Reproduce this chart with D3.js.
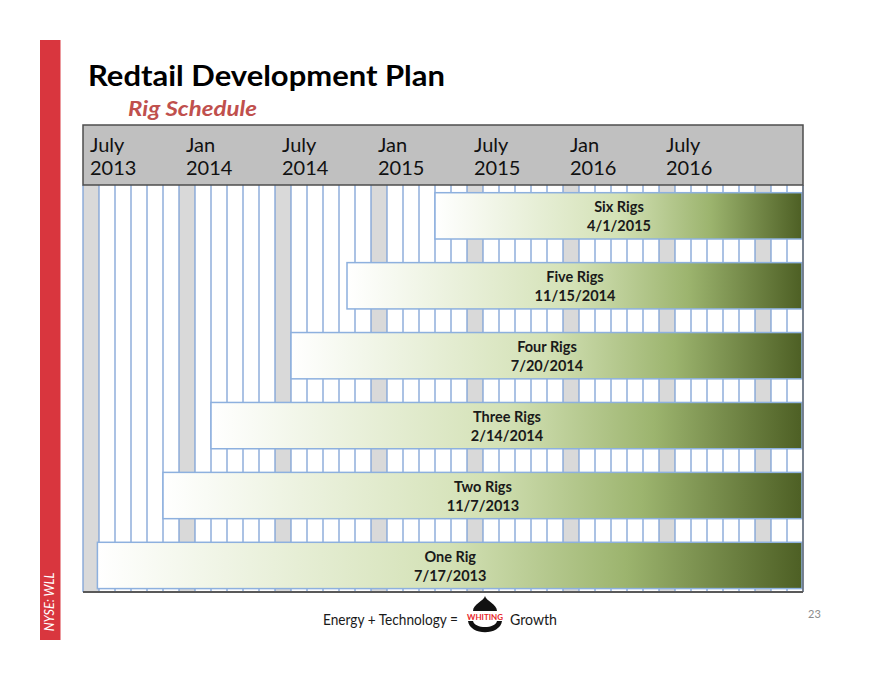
<!DOCTYPE html>
<html>
<head>
<meta charset="utf-8">
<script src="https://cdn.jsdelivr.net/npm/d3@7/dist/d3.min.js"></script>
<style>
  html, body { margin: 0; padding: 0; background: #ffffff; }
  svg { display: block; }
</style>
</head>
<body>
<svg id="chart" width="880" height="680"></svg>
<script>
// ---- data ----
const titleText = "Redtail Development Plan";
const subtitleText = "Rig Schedule";
const monthStart = new Date(2013, 6, 1);   // July 2013
const monthEnd = new Date(2017, 3, 1);     // exclusive: through March 2017
const headerMonths = [0, 6, 12, 18, 24, 30, 36];
const headerLine1 = ["July", "Jan", "July", "Jan", "July", "Jan", "July"];
const headerLine2 = ["2013", "2014", "2014", "2015", "2015", "2016", "2016"];
const rigLabels = ["Six Rigs", "Five Rigs", "Four Rigs", "Three Rigs", "Two Rigs", "One Rig"];
const rigDates = ["4/1/2015", "11/15/2014", "7/20/2014", "2/14/2014", "11/7/2013", "7/17/2013"];
// bar start, in months after July 2013, as drawn in the picture
const rigStart = [22, 16.5, 13, 8, 5, 0.9];
const footerLeft = "Energy + Technology =";
const footerRight = "Growth";
const logoText = "WHITING";
const pageNumber = "23";
const tickerText = "NYSE: WLL";

// ---- layout ----
const svg = d3.select("#chart");
const months = d3.timeMonth.range(monthStart, monthEnd);
const nMonths = months.length;
const frame = { left: 83, right: 803, top: 125, headerBottom: 185, bottom: 592 };

const x = d3.scaleLinear().domain([0, nMonths]).range([frame.left, frame.right]);
const y = d3.scaleLinear().domain([0, rigLabels.length - 1]).range([192.7, 542.3]);
const barH = 46.3;

// left red strip
svg.append("rect").attr("x", 40).attr("y", 40).attr("width", 20.5).attr("height", 600)
  .attr("fill", "#d9363e");
svg.append("text")
  .attr("transform", "translate(54,602) rotate(-90)")
  .attr("text-anchor", "middle")
  .attr("font-family", "Lato, 'Open Sans', sans-serif")
  .attr("font-style", "italic")
  .attr("font-size", 12.5)
  .attr("fill", "#ffffff")
  .text(tickerText);

// title
svg.append("text").attr("x", 88).attr("y", 86)
  .attr("font-family", "Lato, 'Open Sans', sans-serif")
  .attr("font-weight", "bold").attr("font-size", 29)
  .attr("fill", "#000000")
  .attr("textLength", 357).attr("lengthAdjust", "spacingAndGlyphs")
  .text(titleText);
svg.append("text").attr("x", 128).attr("y", 116)
  .attr("font-family", "Lato, 'Open Sans', sans-serif")
  .attr("font-weight", "bold").attr("font-style", "italic").attr("font-size", 21)
  .attr("fill", "#c0504d")
  .attr("textLength", 129).attr("lengthAdjust", "spacingAndGlyphs")
  .text(subtitleText);

// grid columns
const grid = svg.append("g");
grid.selectAll("rect.col").data(months).join("rect")
  .attr("class", "col")
  .attr("x", (d, i) => x(i))
  .attr("y", frame.headerBottom)
  .attr("width", x(1) - x(0))
  .attr("height", frame.bottom - frame.headerBottom)
  .attr("fill", (d, i) => (i % 6 === 0 ? "#d9d9d9" : "#ffffff"));
grid.selectAll("line.col").data(d3.range(0, nMonths + 1)).join("line")
  .attr("x1", d => x(d)).attr("x2", d => x(d))
  .attr("y1", frame.headerBottom).attr("y2", frame.bottom)
  .attr("stroke", "#7ea1d6").attr("stroke-width", 1.3);

// header
svg.append("rect")
  .attr("x", frame.left).attr("y", frame.top)
  .attr("width", frame.right - frame.left).attr("height", frame.headerBottom - frame.top)
  .attr("fill", "#c0c0c0").attr("stroke", "#4d4d4d").attr("stroke-width", 1.5);
const hdr = svg.append("g")
  .attr("font-family", "Lato, 'Open Sans', sans-serif")
  .attr("font-size", 20).attr("fill", "#111111");
hdr.selectAll("text.l1").data(headerMonths).join("text")
  .attr("class", "l1")
  .attr("x", d => x(d) + 7).attr("y", 152)
  .text((d, i) => headerLine1[i]);
hdr.selectAll("text.l2").data(headerMonths).join("text")
  .attr("class", "l2")
  .attr("x", d => x(d) + 7).attr("y", 175)
  .text((d, i) => headerLine2[i]);

// gradient
const defs = svg.append("defs");
const grad = defs.append("linearGradient").attr("id", "barGrad")
  .attr("x1", "0%").attr("x2", "100%").attr("y1", "0%").attr("y2", "0%");
grad.append("stop").attr("offset", "0%").attr("stop-color", "#ffffff");
grad.append("stop").attr("offset", "50%").attr("stop-color", "#d3e1b5");
grad.append("stop").attr("offset", "75%").attr("stop-color", "#9cb46e");
grad.append("stop").attr("offset", "100%").attr("stop-color", "#4d5f24");

// bars
const bars = svg.append("g");
const rows = rigLabels.map((label, i) => ({ label, date: rigDates[i], start: rigStart[i], i }));
bars.selectAll("rect").data(rows).join("rect")
  .attr("x", d => x(d.start))
  .attr("y", d => y(d.i))
  .attr("width", d => x(nMonths) - 1 - x(d.start))
  .attr("height", barH)
  .attr("fill", "url(#barGrad)")
  .attr("stroke", "#8db0de").attr("stroke-width", 1.5);
const lbl = svg.append("g")
  .attr("font-family", "Lato, 'Open Sans', sans-serif")
  .attr("font-weight", "bold").attr("font-size", 14.5)
  .attr("fill", "#1a1a1a").attr("text-anchor", "middle");
lbl.selectAll("text.n").data(rows).join("text")
  .attr("class", "n")
  .attr("x", d => (x(d.start) + x(nMonths)) / 2)
  .attr("y", d => y(d.i) + 19.5)
  .text(d => d.label);
lbl.selectAll("text.d").data(rows).join("text")
  .attr("class", "d")
  .attr("x", d => (x(d.start) + x(nMonths)) / 2)
  .attr("y", d => y(d.i) + 38.5)
  .text(d => d.date);

// outer frame of body
svg.append("line").attr("x1", frame.left).attr("x2", frame.right)
  .attr("y1", frame.bottom).attr("y2", frame.bottom)
  .attr("stroke", "#595959").attr("stroke-width", 2);
svg.append("line").attr("x1", frame.right).attr("x2", frame.right)
  .attr("y1", frame.headerBottom).attr("y2", frame.bottom)
  .attr("stroke", "#595959").attr("stroke-width", 1.2);

// footer
const foot = svg.append("g")
  .attr("font-family", "Lato, 'Open Sans', sans-serif")
  .attr("font-size", 14.5).attr("fill", "#1a1a1a");
foot.append("text").attr("x", 458).attr("y", 625).attr("text-anchor", "end")
  .attr("textLength", 135).attr("lengthAdjust", "spacingAndGlyphs").text(footerLeft);
foot.append("text").attr("x", 510).attr("y", 625)
  .attr("textLength", 47).attr("lengthAdjust", "spacingAndGlyphs").text(footerRight);
const logo = svg.append("g");
logo.append("path")
  .attr("d", "M485,596 C486,601 497,604 497,611 L473,611 C473,604 484,601 485,596 Z")
  .attr("fill", "#111111");
logo.append("path")
  .attr("d", "M468,621 C470,636 500,636 502,621 L497,621 C495,629 475,629 473,621 Z")
  .attr("fill", "#111111");
logo.append("text").attr("x", 485).attr("y", 620).attr("text-anchor", "middle")
  .attr("font-family", "Lato, 'Open Sans', sans-serif").attr("font-weight", "bold")
  .attr("font-size", 8).attr("fill", "#e8262a")
  .attr("textLength", 36).attr("lengthAdjust", "spacingAndGlyphs")
  .text(logoText);
svg.append("text").attr("x", 808).attr("y", 618)
  .attr("font-family", "Lato, 'Open Sans', sans-serif")
  .attr("font-size", 11).attr("fill", "#8c8c8c")
  .text(pageNumber);
</script>
</body>
</html>
